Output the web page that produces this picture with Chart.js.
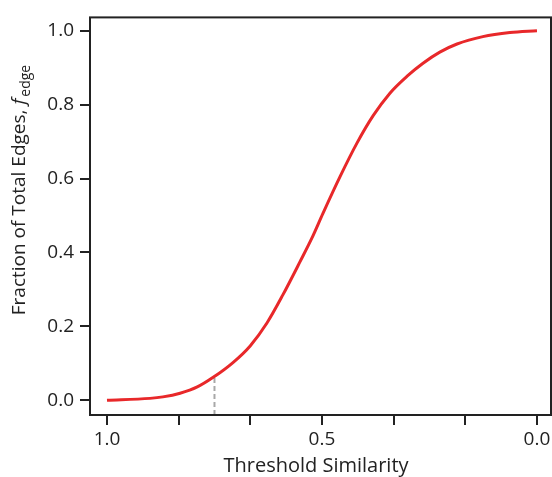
<!DOCTYPE html>
<html>
<head>
<meta charset="utf-8">
<script src="https://cdn.jsdelivr.net/npm/chart.js@4"></script>
<style>
  html, body { margin: 0; padding: 0; background: #fff; }
  #wrap { width: 552px; height: 477px; }
</style>
</head>
<body>
<div id="wrap"><canvas id="chart" width="552" height="477"></canvas></div>
<script>
// values
const thresholds = [1.0, 0.9, 0.87, 0.83, 0.79, 0.753, 0.707, 0.667, 0.628, 0.591, 0.551, 0.523, 0.498,
                    0.458, 0.419, 0.381, 0.342, 0.302, 0.265, 0.226, 0.186, 0.126, 0.063, 0.0];
const fractions  = [0.0, 0.005, 0.009, 0.019, 0.036, 0.062, 0.102, 0.147, 0.209, 0.285, 0.375, 0.44, 0.505,
                    0.605, 0.695, 0.77, 0.831, 0.877, 0.912, 0.942, 0.964, 0.984, 0.995, 1.0];
const xTicks = [0, 1/6, 2/6, 3/6, 4/6, 5/6, 1];
const xTickLabels = ["0.0", "", "", "0.5", "", "", "1.0"];
const yTicks = [0, 0.2, 0.4, 0.6, 0.8, 1.0];
const yTickLabels = ["0.0", "0.2", "0.4", "0.6", "0.8", "1.0"];
// dashed marker
const markX = [0.75, 0.75];
const markY = [0.06, -0.04];

const FONT = "'Open Sans', Lato, sans-serif";
const INK = "#222";

let curve = thresholds.map((t, i) => ({x: t, y: fractions[i]}));
let mark = markX.map((t, i) => ({x: t, y: markY[i]}));

// box around the plot + axis titles
const frame = {
  id: 'frame',
  afterDraw(chart) {
    const ctx = chart.ctx;
    const a = chart.chartArea;
    ctx.save();
    ctx.strokeStyle = INK;
    ctx.lineWidth = 2;
    ctx.strokeRect(a.left, a.top, a.right - a.left, a.bottom - a.top);

    ctx.fillStyle = INK;
    ctx.textBaseline = 'alphabetic';
    // x title
    ctx.font = "20px " + FONT;
    ctx.textAlign = 'center';
    ctx.fillText("Threshold Similarity", 316, 472);

    // y title, rotated, with italic f and subscript
    const main = "Fraction of Total Edges, ";
    ctx.font = "19px " + FONT;
    const w1 = ctx.measureText(main).width;
    ctx.font = "italic 19px " + FONT;
    const w2 = ctx.measureText("f").width + 2;
    ctx.font = "14px " + FONT;
    const w3 = ctx.measureText("edge").width;
    const total = w1 + w2 + w3;
    ctx.translate(25, 190);
    ctx.rotate(-Math.PI / 2);
    ctx.textAlign = 'left';
    let x0 = -total / 2;
    ctx.font = "19px " + FONT;
    ctx.fillText(main, x0, 0);
    ctx.font = "italic 19px " + FONT;
    ctx.fillText("f", x0 + w1, 0);
    ctx.font = "14px " + FONT;
    ctx.fillText("edge", x0 + w1 + w2, 5);
    ctx.restore();
  }
};

new Chart(document.getElementById('chart').getContext('2d'), {
  type: 'line',
  data: {
    datasets: [
      {
        data: curve,
        borderColor: 'rgb(232, 40, 42)',
        borderWidth: 3,
        pointRadius: 0,
        cubicInterpolationMode: 'monotone',
        fill: false
      },
      {
        data: mark,
        borderColor: '#a8a8a8',
        borderWidth: 2,
        borderDash: [5, 3],
        pointRadius: 0,
        fill: false
      }
    ]
  },
  options: {
    responsive: false,
    animation: false,
    layout: { padding: { top: 11, right: 1, left: 0, bottom: 0 } },
    plugins: {
      legend: { display: false },
      tooltip: { enabled: false }
    },
    scales: {
      x: {
        type: 'linear',
        reverse: true,
        min: -0.0326,
        max: 1.0395,
        afterFit: s => { s.height = 62; },
        afterBuildTicks: s => { s.ticks = xTicks.map(v => ({value: v})); },
        border: { display: false },
        grid: { drawOnChartArea: false, drawTicks: true, tickLength: 10, color: INK, lineWidth: 2 },
        ticks: {
          padding: 3,
          color: INK,
          font: { family: FONT, size: 19 },
          callback: (v, i) => xTickLabels[xTicks.indexOf(v)] ?? ''
        }
      },
      y: {
        type: 'linear',
        min: -0.04,
        max: 1.036,
        afterFit: s => { s.width = 90; },
        afterBuildTicks: s => { s.ticks = yTicks.map(v => ({value: v})); },
        border: { display: false },
        grid: { drawOnChartArea: false, drawTicks: true, tickLength: 10, color: INK, lineWidth: 2 },
        ticks: {
          padding: 6,
          color: INK,
          font: { family: FONT, size: 19 },
          callback: (v) => yTickLabels[yTicks.indexOf(v)] ?? ''
        }
      }
    }
  },
  plugins: [frame]
});
</script>
</body>
</html>
